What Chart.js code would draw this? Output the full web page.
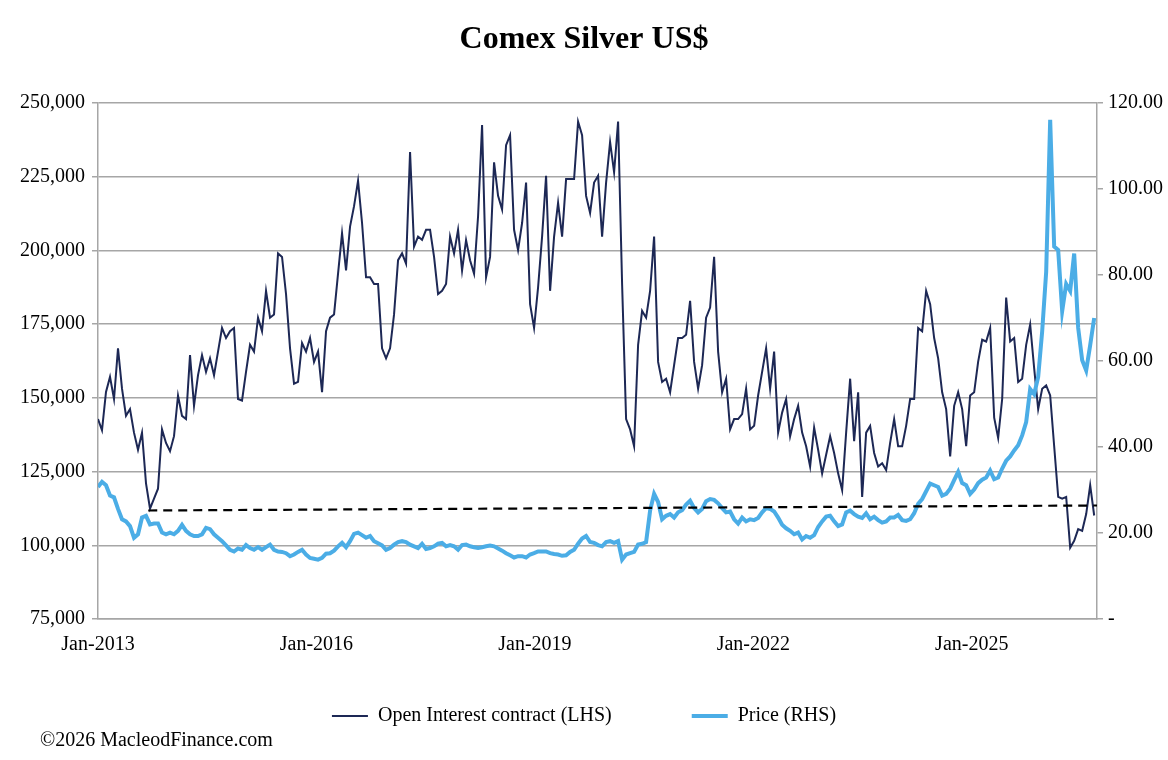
<!DOCTYPE html>
<html>
<head>
<meta charset="utf-8">
<script src="https://cdn.jsdelivr.net/npm/chart.js@4.4.1/dist/chart.umd.min.js"></script>
<style>
  html, body { margin: 0; padding: 0; background: #fff; }
</style>
</head>
<body>
<canvas id="silver-chart" width="1168" height="760"></canvas>
<script>
const startYear = 2013;
const yearsPerPoint = 4 / 72.8; // one reading roughly every three weeks
const axisEndYear = 2026.72;
const yearTicks = [2013, 2016, 2019, 2022, 2025];

// Comex open interest, contracts (LHS)
const openInterest = [
    142800, 139000, 152000, 157100, 149600, 166800, 153100, 143900, 146200, 138200,
    132400, 138200, 121000, 112400, 115800, 119200, 139300, 134700, 131900, 137000,
    150800, 143900, 142800, 164500, 147300, 157700, 164500, 158800, 163400, 157700,
    165700, 173700, 170300, 172600, 173700, 149600, 149100, 158800, 168000, 165700,
    177200, 172600, 186300, 177200, 178300, 199000,
    197800, 185200, 166800, 154800, 155400, 168600, 165700, 170300, 162200, 165700,
    151900, 172600, 177200, 178300, 192100, 205800, 193200, 208100, 215000, 223600,
    209300, 190900, 190900, 188600, 188600, 166800, 163400, 166800, 178300, 196700,
    199000, 195500, 233400, 201300, 204700, 203600, 207000, 207000, 197800, 185200,
    186300, 188600, 204700,
    199000, 207000, 193200, 203500, 196700, 192100, 211600, 242500, 190900, 197800,
    229900, 218500, 213900, 235700, 239100, 207000, 200100, 209300, 223000, 181800,
    173700, 187500, 204700, 225300, 186300, 204700, 216200, 204700, 224200, 224200,
    224200, 243700, 239100, 218500, 212700, 223000, 225300, 204700, 223000, 236800,
    226500, 243700,
    188600, 142800, 139300, 133600, 168000, 179500, 177200, 186300, 204700, 162200,
    155400, 156500, 151900, 161100, 170300, 170300, 171400, 182900, 162200, 153100,
    161100, 177200, 180600, 197800, 165700, 151900, 156500, 139300, 142800, 142800,
    144500, 153100, 139300, 140500, 150800, 158800, 166800, 153100, 165700, 138200,
    145000, 149600,
    137000, 142800, 147300, 138200, 133600, 126700, 139900, 132400, 124400, 130700,
    137000, 131300, 124400, 118700, 138200, 156500, 135300, 151900, 116400, 138200,
    140500, 131300, 126700, 127800, 125500, 134700, 142800, 133600, 133600, 140500,
    149600, 149600, 173700, 172600, 186300, 181800, 170300, 163400, 151900, 146200,
    130100, 147300, 151900,
    146200, 133600, 150800, 151900, 162300, 169700, 169100, 173700, 143300, 136400,
    149600, 184000, 169100, 170300, 155400, 156500, 168000, 174900, 160000, 146200,
    153100, 154200, 150800, 133600, 116400, 115800, 116400, 99200, 101500, 105500,
    104900, 110600, 120400, 110100
];

// Silver price, US$ (RHS)
const price = [
    30.7, 31.9, 31.1, 28.7, 28.3, 25.6, 23.2, 22.7, 21.6, 18.9,
    19.7, 23.6, 24.0, 22.0, 22.2, 22.2, 20.1, 19.7, 20.1, 19.7,
    20.5, 21.9, 20.5, 19.7, 19.3, 19.3, 19.7, 21.2, 20.9, 19.7,
    18.9, 18.1, 17.1, 16.1, 15.7, 16.4, 16.1, 17.2, 16.5, 16.1,
    16.7, 16.1, 16.7, 17.3, 16.1, 15.7,
    15.6, 15.3, 14.6, 15.0, 15.6, 16.1, 15.0, 14.2, 14.0, 13.8,
    14.2, 15.2, 15.3, 15.9, 16.9, 17.7, 16.7, 18.1, 19.8, 20.1,
    19.5, 18.9, 19.3, 18.1, 17.6, 17.1, 16.1, 16.5, 17.3, 17.9,
    18.1, 17.9, 17.3, 16.9, 16.5, 17.5, 16.3, 16.5, 16.9, 17.5,
    17.7, 16.9, 17.2,
    16.9, 16.1, 17.2, 17.3, 16.9, 16.7, 16.5, 16.7, 16.9, 17.1,
    16.9, 16.4, 15.9, 15.3, 14.8, 14.3, 14.6, 14.6, 14.3, 15.0,
    15.3, 15.7, 15.7, 15.7, 15.3, 15.1, 15.0, 14.7, 14.8, 15.6,
    16.1, 17.5, 18.7, 19.3, 17.9, 17.7, 17.2, 16.9, 17.9, 18.1,
    17.7, 18.1,
    13.8, 15.0, 15.3, 15.6, 17.3, 17.5, 17.9, 25.2, 29.1, 27.2,
    23.2, 24.0, 24.4, 23.6, 24.8, 25.3, 26.6, 27.5, 25.8, 24.8,
    25.6, 27.4, 27.9, 27.7, 26.9, 25.8, 24.8, 25.0, 23.2, 22.2,
    23.6, 22.7, 23.2, 23.0, 23.5, 24.8, 25.8, 25.6, 25.0, 23.6,
    21.9, 21.1,
    20.5, 19.7, 20.1, 18.5, 19.3, 18.9, 19.5, 21.4, 22.7, 23.8,
    24.0, 22.7, 21.6, 22.0, 24.8, 25.2, 24.4, 23.8, 23.5, 24.6,
    23.2, 23.8, 23.0, 22.4, 22.7, 23.6, 23.6, 24.2, 23.0, 22.8,
    23.2, 24.6, 26.8, 27.9, 29.7, 31.5, 31.1, 30.7, 28.7, 29.1,
    30.3, 32.3, 34.2,
    31.6, 31.1, 29.1, 30.1, 31.6, 32.4, 32.9, 34.5, 32.5, 32.9,
    35.0, 36.8, 37.8, 39.2, 40.4, 42.7, 45.8, 53.5, 52.3, 56.3,
    66.9, 80.7, 116.1, 86.6, 85.8, 71.6, 77.9, 76.3, 85.0, 67.7,
    60.2, 57.8, 63.7, 70.0
];

// dashed support line on the open interest scale
const trendYears = [2013.69, 2026.72];
const trendLevels = [111800, 113500];

const serif = "'Liberation Serif', 'DejaVu Serif', serif";
const gridGrey = '#a6a6a6';

Chart.defaults.font.family = serif;
Chart.defaults.font.size = 20;
Chart.defaults.color = '#000';

const toPoints = values => values.map((v, i) => ({ x: startYear + i * yearsPerPoint, y: v }));

// copyright line under the legend
const footer = {
    id: 'footer',
    afterDraw(chart) {
        const ctx = chart.ctx;
        ctx.save();
        ctx.font = '20px ' + serif;
        ctx.fillStyle = '#000';
        ctx.textBaseline = 'middle';
        ctx.textAlign = 'left';
        ctx.fillText('\u00a92026 MacleodFinance.com', 40, 741);
        ctx.restore();
    }
};

const data = {
    datasets: [
        {
            label: 'Open Interest contract (LHS)',
            data: toPoints(openInterest),
            yAxisID: 'y',
            borderColor: '#1d2855',
            borderWidth: 2,
            pointRadius: 0,
            pointStyle: 'line',
            tension: 0,
            order: 2,
        },
        {
            label: 'Price (RHS)',
            data: toPoints(price),
            yAxisID: 'y1',
            borderColor: '#4bade6',
            borderWidth: 4,
            pointRadius: 0,
            pointStyle: 'line',
            tension: 0,
            order: 1,
        },
        {
            label: 'trend',
            data: trendYears.map((x, i) => ({ x, y: trendLevels[i] })),
            yAxisID: 'y',
            borderColor: '#000',
            borderWidth: 2.2,
            borderDash: [9, 6],
            pointRadius: 0,
            order: 0,
        },
    ],
};

const config = {
    type: 'line',
    data,
    options: {
        responsive: false,
        animation: false,
        layout: { padding: { bottom: 24 } },
        plugins: {
            title: {
                display: true,
                text: 'Comex Silver US$',
                color: '#000',
                font: { size: 32, weight: 'bold' },
                padding: { top: 21, bottom: 43.6 },
            },
            legend: {
                position: 'bottom',
                labels: {
                    usePointStyle: true,
                    pointStyleWidth: 36,
                    padding: 10,
                    color: '#000',
                    font: { size: 20 },
                    filter: item => item.datasetIndex < 2,
                    sort: (a, b) => a.datasetIndex - b.datasetIndex,
                    generateLabels: chart => {
                        const items = Chart.defaults.plugins.legend.labels.generateLabels(chart);
                        items.forEach(item => {
                            if (item.datasetIndex === 0) item.text += ' '.repeat(14);
                        });
                        return items;
                    },
                },
            },
            tooltip: { enabled: false },
        },
        scales: {
            x: {
                type: 'linear',
                min: startYear,
                max: axisEndYear,
                afterBuildTicks: s => { s.ticks = yearTicks.map(v => ({ value: v })); },
                ticks: { callback: v => 'Jan-' + v, padding: 14, maxRotation: 0, autoSkip: false },
                grid: { display: false, drawTicks: false },
                border: { display: true, color: gridGrey, width: 1.5 },
                afterFit: s => { s.height = 77; },
            },
            y: {
                position: 'left',
                min: 75000,
                max: 250000,
                ticks: { stepSize: 25000, padding: 7, callback: v => v.toLocaleString('en-US') },
                grid: { color: gridGrey, lineWidth: 1.5, tickLength: 6 },
                border: { color: gridGrey, width: 1.5 },
                afterFit: s => { s.width = 98; },
            },
            y1: {
                position: 'right',
                min: 0,
                max: 120,
                ticks: { stepSize: 20, padding: 5, callback: v => v === 0 ? '-' : v.toFixed(2) },
                grid: { drawOnChartArea: false, color: gridGrey, lineWidth: 1.5, tickLength: 6 },
                border: { color: gridGrey, width: 1.5 },
                afterFit: s => { s.width = 71; },
            },
        },
    },
    plugins: [footer],
};

const silverChart = new Chart(document.getElementById('silver-chart'), config);
</script>
</body>
</html>
